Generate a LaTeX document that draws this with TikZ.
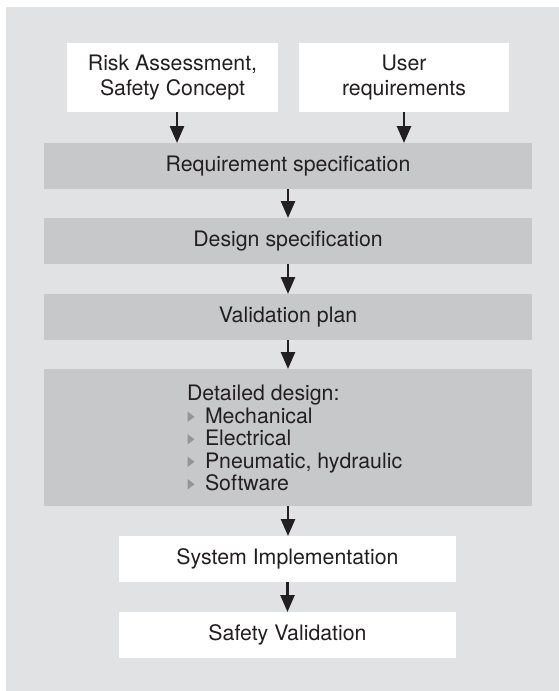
\documentclass[tikz,border=0pt]{standalone}
\usepackage{fontspec}
\setmainfont{TeX Gyre Heros}
\usetikzlibrary{arrows.meta}
\definecolor{bgc}{HTML}{E1E2E4}
\definecolor{boxc}{HTML}{C7C8CA}
\definecolor{txtc}{HTML}{231F20}
\definecolor{bulc}{HTML}{939598}
\begin{document}
\begin{tikzpicture}[x=1pt,y=-1pt,
  every node/.style={inner sep=0pt, outer sep=0pt, text=txtc, font=\fontsize{21.3}{25.5}\selectfont},
  gbox/.style={fill=boxc, minimum width=488pt, minimum height=46pt},
  wbox/.style={fill=white, minimum height=46pt},
  arr/.style={draw=txtc, line width=2.6pt, -{Triangle[length=17pt,width=14pt]}},
  bul/.style={fill=bulc}]
\useasboundingbox (0,0) rectangle (559,691);
\fill[bgc] (6,7) rectangle (559,691);
% top boxes
\node[wbox, minimum width=211pt, minimum height=69pt, align=center] (lt) at (172.5,77.5) {Risk Assessment,\\Safety Concept};
\node[wbox, minimum width=210pt, minimum height=69pt, align=center] (rt) at (404,77.5) {User\\requirements};
% gray boxes
\node[gbox] (rs) at (288,166) {Requirement specification};
\node[gbox] (ds) at (288,241) {Design specification};
\node[gbox] (vp) at (288,317) {Validation plan};
\node[gbox, minimum height=137pt] (dd) at (288,437.5) {};
% white boxes
\node[wbox, minimum width=337pt] (si) at (287.5,559) {System Implementation};
\node[wbox, minimum width=337pt] (sv) at (287.5,635) {Safety Validation};
% detailed design text
\node[anchor=base west] (ddt) at (187,400) {Detailed design:};
\node[anchor=base west] (d1) at (205,423) {Mechanical};
\node[anchor=base west] (d2) at (205,445.5) {Electrical};
\node[anchor=base west] (d3) at (205,468) {Pneumatic, hydraulic};
\node[anchor=base west] (d4) at (205,490.5) {Software};
\foreach \b in {423,445.5,468,490.5}{
  \fill[bul] (187.5,\b-1) -- (187.5,\b-11.5) -- (194.5,\b-6.25) -- cycle;
}
% arrows
\draw[arr] ([xshift=4.5pt]lt.south) -- ([xshift=4.5pt]lt.south |- rs.north);
\draw[arr] (rt.south) -- (rt.south |- rs.north);
\draw[arr] (rs.south) -- (ds.north);
\draw[arr] (ds.south) -- (vp.north);
\draw[arr] (vp.south) -- (dd.north);
\draw[arr] (dd.south) -- (dd.south |- si.north);
\draw[arr] (si.south) -- (si.south |- sv.north);
\end{tikzpicture}
\end{document}
